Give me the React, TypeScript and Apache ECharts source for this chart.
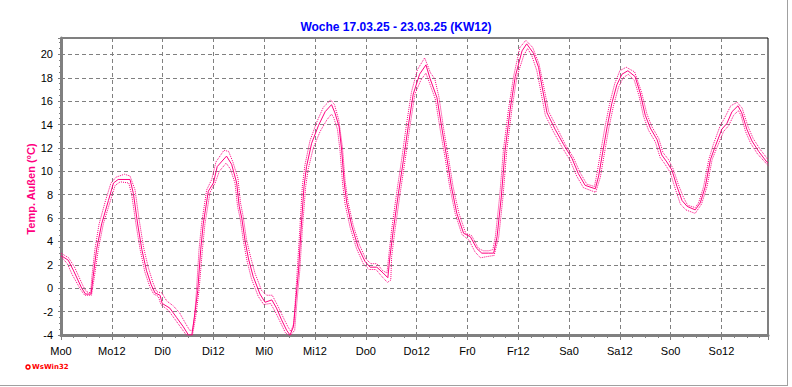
import React, { useEffect, useRef } from "react";
import * as echarts from "echarts";

const titleText = "Woche 17.03.25 - 23.03.25 (KW12)";
const yAxisName = "Temp. Außen (°C)";
const xTickLabels = ["Mo0", "Mo12", "Di0", "Di12", "Mi0", "Mi12", "Do0", "Do12", "Fr0", "Fr12", "Sa0", "Sa12", "So0", "So12"];
const yTickValues = [-4, -2, 0, 2, 4, 6, 8, 10, 12, 14, 16, 18, 20];

// [hour since Mo 0:00, °C]
const tempValues: [number, number][] = [
  [0, 2.8], [1.7, 2.4], [2.9, 1.55], [4.9, 0.0], [5.8, -0.5], [7.1, -0.5], [7.6, 1.0], [8.4, 3.3], [9.6, 5.5], [11.2, 7.5],
  [12.4, 9.0], [13.5, 9.3], [16.3, 9.3], [17.1, 8.1], [18.1, 5.5], [19.1, 3.3], [20.2, 1.5], [21.3, 0.3], [22.2, -0.4], [23.4, -0.6],
  [23.9, -1.3], [25.7, -1.7], [27.3, -2.5], [28.9, -3.3], [30.1, -4.0], [30.9, -4.0], [31.5, -2.5], [32.3, -0.2], [33.0, 3.3], [33.6, 5.5],
  [34.8, 8.3], [36.0, 9.0], [36.9, 10.4], [39.1, 11.3], [40.3, 10.6], [41.5, 9.0], [42.1, 7.0], [42.7, 6.0], [43.5, 4.0], [44.3, 2.5],
  [45.4, 1.0], [47.0, -0.5], [48.2, -1.2], [49.8, -1.0], [50.9, -1.7], [52.1, -2.7], [53.3, -3.6], [54.1, -4.0], [54.9, -3.3], [55.4, -1.3],
  [56.1, 1.5], [56.7, 5.0], [57.4, 8.7], [58.0, 10.4], [59.2, 12.4], [60.8, 13.9], [62.4, 15.1], [63.9, 15.7], [64.7, 15.0], [65.7, 13.8],
  [66.3, 11.8], [66.9, 9.0], [67.5, 7.3], [68.7, 5.3], [70.2, 3.5], [71.8, 2.3], [73.0, 1.8], [74.6, 1.8], [76.1, 1.3], [77.2, 0.9],
  [77.7, 2.7], [78.5, 5.0], [79.7, 8.1], [80.9, 11.0], [82.0, 13.8], [83.2, 16.6], [84.7, 18.3], [86.2, 19.1], [87.2, 17.9], [88.8, 16.3],
  [90.0, 13.6], [91.2, 11.0], [92.2, 8.7], [93.5, 6.4], [95.1, 4.7], [96.7, 4.4], [98.2, 3.4], [99.4, 3.0], [101.0, 3.0], [102.2, 3.0],
  [103.0, 4.4], [104.0, 7.8], [104.9, 11.8], [106.1, 15.3], [107.3, 18.1], [108.9, 20.3], [110.0, 20.9], [111.6, 20.1], [112.8, 18.9], [113.6, 17.3],
  [114.8, 15.0], [116.7, 13.6], [118.7, 12.3], [120.7, 11.1], [122.2, 9.8], [123.8, 8.8], [126.2, 8.5], [127.0, 9.6], [127.8, 11.3], [129.0, 13.8],
  [130.1, 15.8], [131.3, 17.4], [132.5, 18.3], [133.9, 18.6], [135.6, 18.1], [136.8, 16.7], [138.0, 14.8], [139.2, 13.7], [140.8, 12.7], [141.9, 11.4],
  [143.1, 10.8], [144.3, 10.1], [145.5, 8.7], [146.7, 7.5], [147.9, 7.0], [149.8, 6.7], [151.0, 7.3], [152.2, 8.7], [153.4, 11.0], [154.5, 12.1],
  [156.1, 13.6], [157.3, 14.1], [158.5, 15.1], [159.9, 15.6], [160.8, 15.0], [162.0, 13.6], [163.2, 12.6], [164.8, 11.7], [166.7, 10.8], [167, 10.7],
];

const maxValues: [number, number][] = [
  [0, 3.0], [1.8, 2.6], [3.2, 1.8], [5.2, 0.2], [6.0, -0.3], [7.0, -0.4], [7.3, 1.0], [8.0, 3.3], [9.0, 5.5], [10.6, 7.6],
  [11.8, 9.0], [13.0, 9.5], [15.0, 9.75], [16.3, 9.6], [17.5, 8.4], [18.4, 6.0], [19.5, 3.5], [20.6, 1.8], [21.7, 0.5], [22.6, -0.3],
  [23.8, -0.4], [25.0, -1.1], [26.5, -1.5], [28.0, -2.1], [29.4, -3.0], [30.4, -3.6], [31.1, -3.6], [31.6, -2.2], [32.0, -0.2], [32.6, 3.3],
  [33.2, 5.5], [34.4, 8.4], [35.6, 9.3], [36.6, 10.8], [38.5, 11.8], [39.6, 11.7], [40.6, 10.8], [41.8, 9.4], [42.4, 7.3], [43.0, 6.2],
  [43.8, 4.2], [44.7, 2.8], [45.8, 1.3], [47.4, -0.2], [48.6, -0.6], [49.9, -0.6], [51.2, -1.5], [52.5, -2.5], [53.6, -3.3], [54.3, -3.7],
  [55.0, -3.0], [55.3, -1.3], [55.8, 1.5], [56.4, 5.0], [57.0, 8.7], [57.6, 10.5], [58.8, 12.6], [60.4, 14.2], [62.0, 15.5], [63.7, 16.1],
  [64.6, 15.7], [65.6, 14.4], [66.5, 12.0], [67.1, 9.2], [67.8, 7.4], [69.0, 5.4], [70.5, 3.7], [72.0, 2.5], [73.2, 2.1], [74.6, 2.1],
  [76.0, 1.5], [77.0, 1.3], [77.4, 2.7], [78.1, 5.0], [79.3, 8.2], [80.5, 11.1], [81.6, 14.0], [82.8, 16.8], [84.2, 18.7], [85.9, 19.7],
  [87.3, 18.4], [88.3, 17.9], [89.3, 16.3], [90.4, 13.6], [91.6, 11.0], [92.6, 8.7], [94.0, 6.4], [95.6, 4.7], [97.0, 4.5], [98.6, 3.4],
  [99.8, 3.2], [101.0, 3.2], [102.0, 3.3], [102.6, 4.4], [103.6, 7.8], [104.5, 11.8], [105.7, 15.3], [106.9, 18.1], [108.4, 20.6], [109.8, 21.2],
  [111.4, 20.6], [112.9, 19.2], [114.0, 17.3], [115.2, 15.1], [117.2, 13.7], [119.1, 12.3], [121.0, 11.2], [122.6, 9.9], [124.2, 8.9], [126.0, 8.7],
  [126.5, 9.6], [127.3, 11.3], [128.5, 13.8], [129.6, 15.8], [130.8, 17.5], [132.0, 18.6], [133.5, 18.9], [135.5, 18.5], [137.1, 16.8], [138.4, 14.9],
  [139.6, 13.8], [141.2, 12.8], [142.2, 11.6], [143.5, 11.0], [144.6, 10.2], [145.8, 8.9], [147.0, 7.8], [148.0, 7.1], [149.8, 6.9], [150.6, 7.3],
  [151.8, 8.7], [153.0, 11.0], [154.1, 12.3], [155.6, 13.8], [156.8, 14.6], [158.2, 15.6], [159.7, 15.9], [160.9, 15.4], [162.3, 13.8], [163.5, 12.8],
  [165.1, 11.9], [167, 11.0],
];

const minValues: [number, number][] = [
  [0, 2.7], [1.5, 2.1], [2.6, 1.2], [4.6, -0.1], [5.6, -0.6], [7.2, -0.6], [7.9, 1.0], [8.8, 3.3], [10.0, 5.5], [11.6, 7.4],
  [12.8, 8.8], [14.0, 9.1], [16.0, 9.0], [16.7, 8.0], [17.7, 5.5], [18.7, 3.3], [19.8, 1.4], [21.0, 0.1], [21.9, -0.5], [23.0, -0.7],
  [23.6, -1.4], [25.4, -1.9], [27.0, -2.7], [28.6, -3.5], [29.8, -4.1], [31.0, -4.1], [31.8, -2.5], [32.6, -0.2], [33.4, 3.3], [34.0, 5.5],
  [35.2, 8.2], [36.4, 9.0], [37.4, 10.0], [39.0, 10.7], [40.0, 10.2], [41.1, 9.0], [41.7, 7.0], [42.3, 6.0], [43.1, 4.0], [43.9, 2.4],
  [45.0, 0.8], [46.6, -0.7], [47.9, -1.4], [49.5, -1.3], [50.6, -2.0], [51.8, -2.9], [53.0, -3.8], [54.0, -4.1], [55.2, -3.6], [55.7, -1.3],
  [56.4, 1.5], [57.0, 5.0], [57.8, 8.7], [58.4, 10.2], [59.6, 12.0], [61.2, 13.4], [62.8, 14.4], [63.9, 14.9], [64.4, 14.6], [65.3, 13.6],
  [65.9, 11.8], [66.5, 9.0], [67.1, 7.2], [68.3, 5.2], [69.8, 3.4], [71.4, 2.1], [72.8, 1.6], [74.4, 1.6], [75.8, 1.0], [77.1, 0.5],
  [77.9, 0.7], [78.1, 2.7], [78.9, 5.0], [80.1, 8.1], [81.3, 11.0], [82.4, 13.8], [83.6, 16.6], [85.0, 17.8], [86.2, 18.4], [87.0, 17.6],
  [88.4, 16.2], [89.6, 13.5], [90.8, 11.0], [91.8, 8.7], [93.1, 6.4], [94.7, 4.6], [96.4, 4.1], [97.8, 3.1], [99.1, 2.6], [100.5, 2.7],
  [102.3, 2.8], [103.4, 4.4], [104.4, 7.8], [105.3, 11.8], [106.5, 15.3], [107.7, 18.1], [109.3, 19.9], [110.2, 20.5], [111.2, 19.9], [112.4, 18.6],
  [113.2, 17.1], [114.4, 14.8], [116.3, 13.4], [118.3, 12.1], [120.3, 10.9], [121.8, 9.6], [123.4, 8.6], [126.3, 8.2], [127.4, 9.5], [128.2, 11.2],
  [129.4, 13.7], [130.5, 15.6], [131.7, 17.2], [132.8, 18.0], [134.0, 18.3], [135.4, 17.8], [136.5, 16.5], [137.6, 14.7], [138.8, 13.5], [140.4, 12.5],
  [141.5, 11.2], [142.7, 10.6], [143.9, 9.9], [145.1, 8.5], [146.3, 7.2], [147.6, 6.7], [149.8, 6.4], [151.3, 7.2], [152.6, 8.7], [153.8, 11.0],
  [154.9, 12.0], [156.5, 13.4], [157.7, 13.9], [158.9, 14.8], [160.0, 15.2], [160.6, 14.8], [161.7, 13.4], [162.9, 12.4], [164.5, 11.5], [167, 10.5],
];

const LINE = "#ff0080";
const GRID = "#808080";
const FONT = "'Liberation Sans', Arial, sans-serif";

export default function App() {
  const ref = useRef<HTMLDivElement>(null);
  useEffect(() => {
    document.body.style.margin = "0";
    const chart = echarts.init(ref.current!, null, { renderer: "svg" });
    chart.setOption({
      animation: false,
      backgroundColor: "#fff",
      title: {
        text: titleText,
        left: "center",
        top: 16,
        textStyle: { color: "#0000ff", fontSize: 12, fontWeight: "bold", fontFamily: FONT },
      },
      grid: {
        left: 61, top: 38, right: 24, bottom: 52,
        show: true, borderColor: "#000", borderWidth: 1, backgroundColor: "#fff",
      },
      xAxis: {
        type: "value", min: 0, max: 167, interval: 12,
        axisLine: { show: true, onZero: false, lineStyle: { color: GRID, width: 3 } },
        axisTick: { show: true, length: 5, lineStyle: { color: GRID } },
        minorTick: { show: true, splitNumber: 4, length: 3, lineStyle: { color: GRID } },
        axisLabel: {
          color: "#000", fontSize: 11, fontFamily: FONT, margin: 10,
          formatter: (v: number) => (v % 12 === 0 ? xTickLabels[v / 12] ?? "" : ""),
        },
        splitLine: { show: true, lineStyle: { color: GRID, type: [4, 3], width: 1 } },
      },
      yAxis: {
        type: "value", min: -4, max: 21.4, interval: 2,
        axisLine: { show: true, onZero: false, lineStyle: { color: GRID, width: 3 } },
        axisTick: { show: true, length: 3, lineStyle: { color: GRID } },
        minorTick: { show: true, splitNumber: 4, length: 2, lineStyle: { color: GRID } },
        axisLabel: {
          color: "#000", fontSize: 11, fontFamily: FONT, margin: 8,
          formatter: (v: number) => (yTickValues.includes(v) ? String(v) : ""),
        },
        splitLine: { show: true, lineStyle: { color: GRID, type: [4, 3], width: 1 } },
      },
      graphic: [
        {
          type: "text", x: 31, y: 189, rotation: Math.PI / 2,
          style: { text: yAxisName, fill: LINE, font: `bold 11px ${FONT}`, textAlign: "center", textVerticalAlign: "middle" },
        },
        { type: "circle", shape: { cx: 28, cy: 367, r: 2 }, style: { fill: "#fff", stroke: "#ff0000", lineWidth: 1.5 } },
        {
          type: "text", x: 32, y: 367,
          style: { text: "WsWin32", fill: "#ff0000", font: `bold 7px 'DejaVu Sans', sans-serif`, textVerticalAlign: "middle" },
        },
        { type: "line", shape: { x1: 0, y1: 385.5, x2: 788, y2: 385.5 }, style: { stroke: "#a0a0a0", lineWidth: 1 } },
        { type: "line", shape: { x1: 787.5, y1: 0, x2: 787.5, y2: 386 }, style: { stroke: "#a0a0a0", lineWidth: 1 } },
      ],
      series: [
        {
          type: "line", data: maxValues, showSymbol: false, silent: true,
          lineStyle: { color: LINE, width: 1, type: [1, 1] },
        },
        {
          type: "line", data: minValues, showSymbol: false, silent: true,
          lineStyle: { color: LINE, width: 1, type: [1, 1] },
        },
        {
          type: "line", data: tempValues, showSymbol: false, silent: true,
          lineStyle: { color: LINE, width: 1 },
        },
      ],
    });
    return () => chart.dispose();
  }, []);
  return <div ref={ref} style={{ width: 792, height: 387 }} />;
}
